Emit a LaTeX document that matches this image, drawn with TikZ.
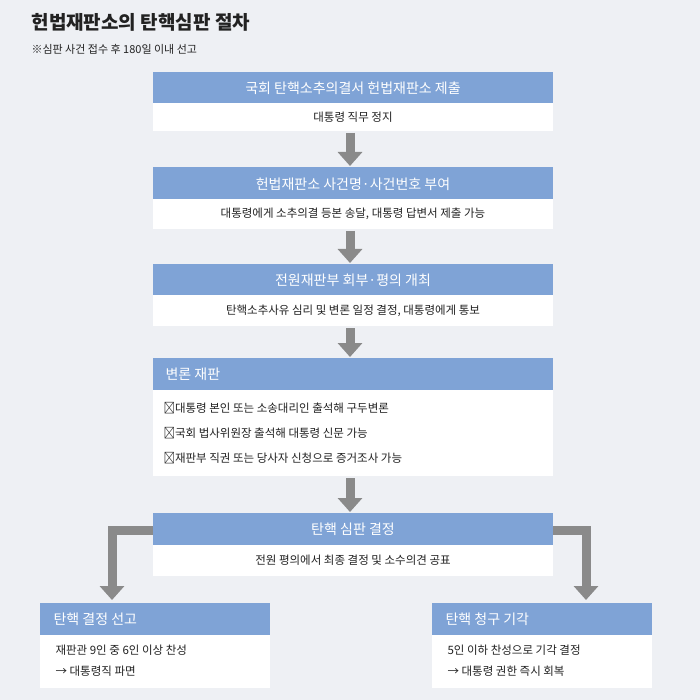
\documentclass[tikz,border=0pt]{standalone}
\usepackage{fontspec}
\setmainfont{Noto Sans CJK KR}
\usetikzlibrary{arrows.meta}
\definecolor{bg}{HTML}{EEF0F4}
\definecolor{hd}{HTML}{7FA3D6}
\definecolor{ar}{HTML}{8A8A8A}
\definecolor{tx}{HTML}{222222}
\tikzset{
  body/.style={fill=white,draw=none,text=tx,font=\fontsize{11.5}{16}\selectfont},
  flow/.style={draw=ar,line width=9pt,-{Triangle[width=24pt,length=14pt]}}
}
\begin{document}
\begin{tikzpicture}[x=1pt,y=-1pt]
\useasboundingbox[fill=bg] (0,0) rectangle (700,700);
\node[anchor=west,text=tx,font=\fontsize{19}{21}\selectfont\bfseries] (t) at (28,22) {헌법재판소의 탄핵심판 절차};
\node[anchor=west,text=tx,font=\fontsize{11}{13}\selectfont] (s) at (28,49) {※심판 사건 접수 후 180일 이내 선고};
% box1
\fill[hd] (153,72) rectangle (553,103);
\node[text=white,font=\fontsize{14}{16}\selectfont] (h1) at (353,88) {국회 탄핵소추의결서 헌법재판소 제출};
\fill[white] (153,103) rectangle (553,131);
\node[body] (b1) at (353,117) {대통령 직무 정지};
% box2
\fill[hd] (153,167) rectangle (553,199);
\node[text=white,font=\fontsize{14}{16}\selectfont] (h2) at (353,184) {헌법재판소 사건명·사건번호 부여};
\fill[white] (153,199) rectangle (553,229);
\node[body] (b2) at (353,214) {대통령에게 소추의결 등본 송달, 대통령 답변서 제출 가능};
% box3
\fill[hd] (153,264) rectangle (553,295);
\node[text=white,font=\fontsize{14}{16}\selectfont] (h3) at (353,280) {전원재판부 회부·평의 개최};
\fill[white] (153,295) rectangle (553,326);
\node[body] (b3) at (353,311) {탄핵소추사유 심리 및 변론 일정 결정, 대통령에게 통보};
% box4
\fill[hd] (153,358) rectangle (553,390);
\node[anchor=west,text=white,font=\fontsize{14}{16}\selectfont] (h4) at (162,374) {변론 재판};
\fill[white] (153,390) rectangle (553,476);
\node[body,anchor=west,align=left,font=\fontsize{11.5}{25}\selectfont] (b4) at (160,433) {▸대통령 본인 또는 소송대리인 출석해 구두변론\\▸국회 법사위원장 출석해 대통령 신문 가능\\▸재판부 직권 또는 당사자 신청으로 증거조사 가능};
% box5
\fill[hd] (153,513) rectangle (553,545);
\node[text=white,font=\fontsize{14}{16}\selectfont] (h5) at (353,529) {탄핵 심판 결정};
\fill[white] (153,545) rectangle (553,576);
\node[body] (b5) at (353,560) {전원 평의에서 최종 결정 및 소수의견 공표};
% box6
\fill[hd] (40,603) rectangle (270,635);
\node[anchor=west,text=white,font=\fontsize{14}{16}\selectfont] (h6) at (50,619) {탄핵 결정 선고};
\fill[white] (40,635) rectangle (270,688);
\node[body,anchor=west,align=left,font=\fontsize{11.5}{21}\selectfont] (b6) at (52,661) {재판관 9인 중 6인 이상 찬성\\ → 대통령직 파면};
% box7
\fill[hd] (432,603) rectangle (652,635);
\node[anchor=west,text=white,font=\fontsize{14}{16}\selectfont] (h7) at (442,619) {탄핵 청구 기각};
\fill[white] (432,635) rectangle (652,688);
\node[body,anchor=west,align=left,font=\fontsize{11.5}{21}\selectfont] (b7) at (444,661) {5인 이하 찬성으로 기각 결정\\ → 대통령 권한 즉시 회복};
% arrows
\draw[flow] (350,133) -- (350,166);
\draw[flow] (350,231) -- (350,263);
\draw[flow] (350,328) -- (350,357);
\draw[flow] (350,478) -- (350,512);
\coordinate (lA) at (153,530);
\coordinate (rA) at (553,530);
\draw[flow] (lA) -- (112,530) -- (112,600);
\draw[flow] (rA) -- (586,530) -- (586,600);
\end{tikzpicture}
\end{document}
